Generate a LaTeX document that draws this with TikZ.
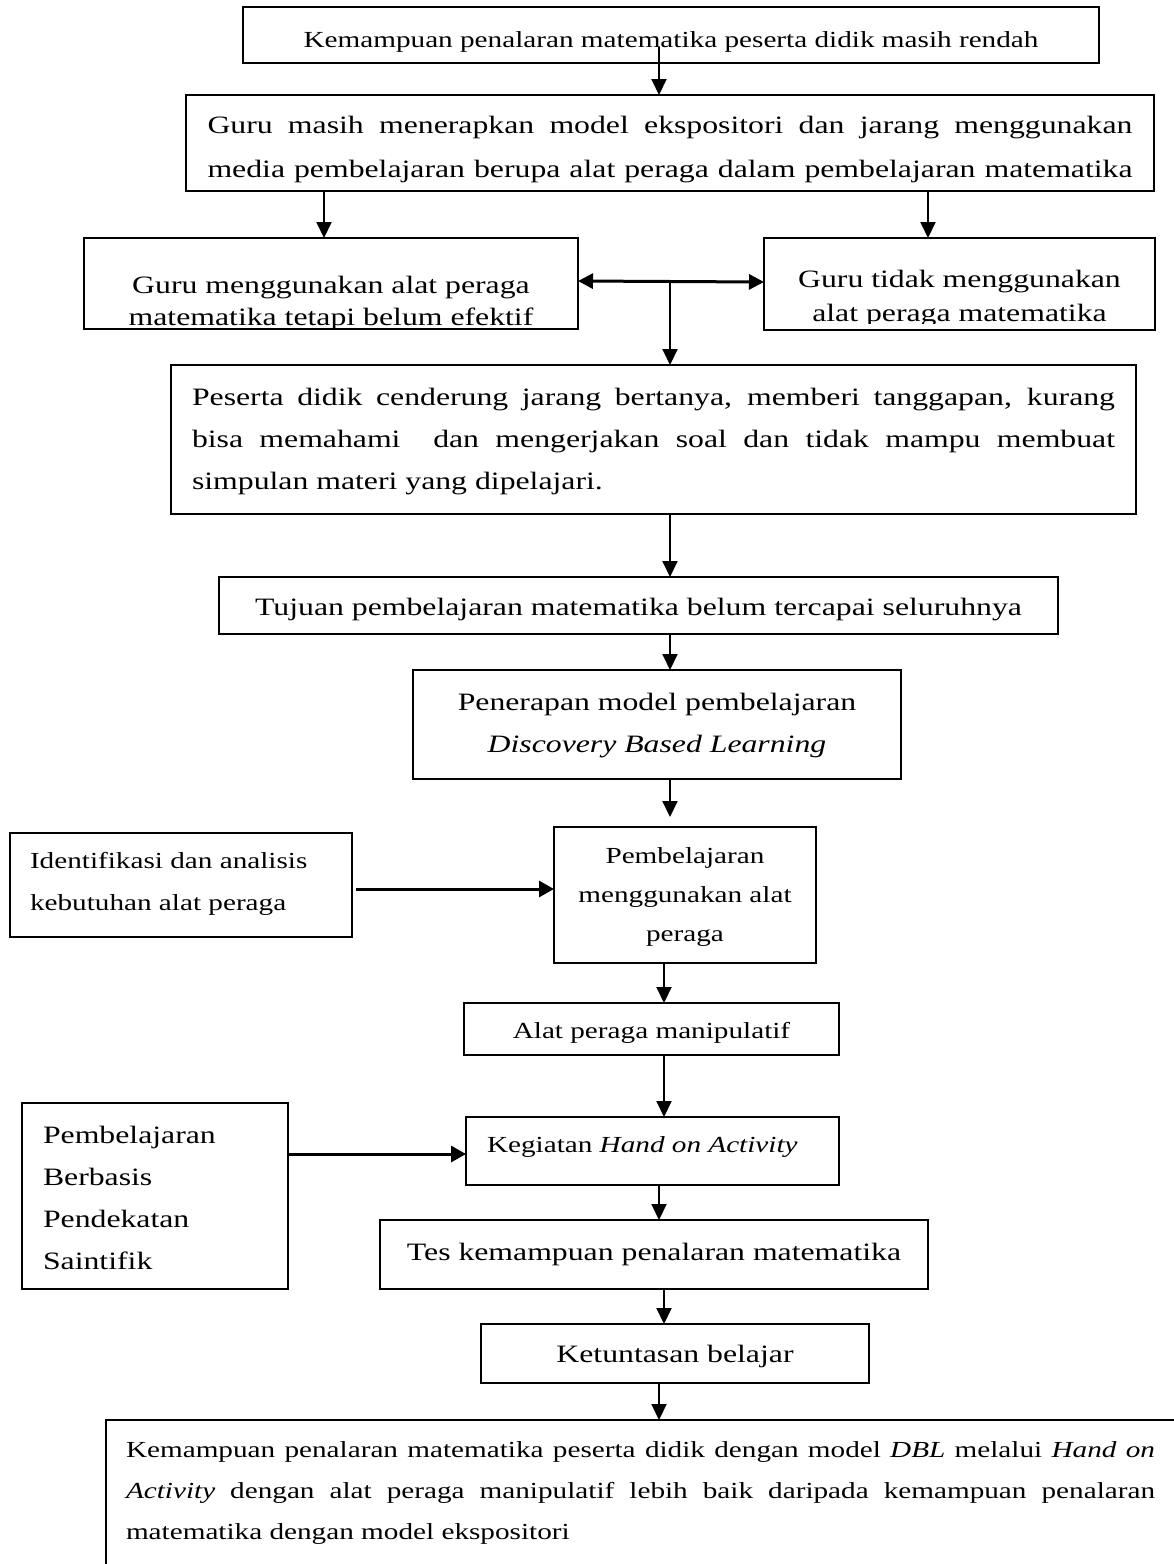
\documentclass[tikz,border=0pt]{standalone}
\usepackage{fontspec}
\setmainfont{Liberation Serif}[FakeStretch=1.27]
\usetikzlibrary{arrows.meta,calc}
\newcommand\tabL[1]{\begin{tabular}[t]{@{}l@{}}#1\end{tabular}}
\newcommand\tabC[1]{\begin{tabular}[t]{@{}c@{}}#1\end{tabular}}
\newcommand\jl[2]{\makebox[#1][s]{#2}}
\tikzset{
  box/.style={draw, line width=2pt, inner sep=0pt, outer sep=0pt, align=center},
  boxthick/.style={box, line width=2.6pt},
  arr/.style={line width=2pt, -{Triangle[length=16pt,width=15pt]}},
  harr/.style={line width=3pt, -{Triangle[length=15pt,width=16pt]}},
  dharr/.style={line width=3pt, {Triangle[length=15pt,width=15pt]}-{Triangle[length=15pt,width=15pt]}},
  fXII/.style={font=\fontsize{25}{44}\selectfont},
  fXI/.style={font=\fontsize{23}{40}\selectfont}
}
\begin{document}
\begin{tikzpicture}[x=1pt,y=-1pt]
\useasboundingbox (0,0) rectangle (1174,1564);
\fill[white] (0,0) rectangle (1174,1564);
\clip (0,0) rectangle (1174,1564);

% reference coordinates for the vertical connectors
\coordinate (mx) at (670,0);
\coordinate (mx2) at (664,0);
\coordinate (mx3) at (659,0);

\node[box, fXI, minimum width=856pt, text height=40pt, text depth=16pt] (b1) at (671,35)
  {Kemampuan penalaran matematika peserta didik masih rendah};

\node[boxthick, fXII, minimum width=968pt, text height=38pt, text depth=58pt] (b2) at (670,143)
  {\tabL{\jl{925pt}{Guru masih menerapkan model ekspositori dan jarang menggunakan}\\
         \jl{925pt}{media pembelajaran berupa alat peraga dalam pembelajaran matematika}}};

\node[box, minimum width=494pt, minimum height=91pt, path picture={
    \clip ([yshift=2pt]path picture bounding box.south west) rectangle (path picture bounding box.north east);
    \node[anchor=base, inner sep=0pt, font=\fontsize{25}{32}\selectfont] (b3lt)
      at ([yshift=-55pt]path picture bounding box.north)
      {\tabC{Guru menggunakan alat peraga\\ matematika tetapi belum efektif}};
  }] (b3l) at (331,283.5) {};

\node[box, minimum width=391pt, minimum height=92pt, path picture={
    \clip ([yshift=7pt]path picture bounding box.south west) rectangle (path picture bounding box.north east);
    \node[anchor=base, inner sep=0pt, font=\fontsize{25}{34}\selectfont] (b3rt)
      at ([yshift=-49pt]path picture bounding box.north)
      {\tabC{Guru tidak menggunakan\\ alat peraga matematika}};
  }] (b3r) at (959.5,284) {};

\node[boxthick, font=\fontsize{25}{42}\selectfont, minimum width=965pt, text height=40pt, text depth=109pt] (b4) at (653.5,439.5)
  {\tabL{\jl{923pt}{Peserta didik cenderung jarang bertanya, memberi tanggapan, kurang}\\
         \jl{923pt}{bisa memahami\ \ dan mengerjakan soal dan tidak mampu membuat}\\
         simpulan materi yang dipelajari.}};

\node[box, fXII, minimum width=839pt, text height=38pt, text depth=19pt] (b5) at (638.5,605.5)
  {Tujuan pembelajaran matematika belum tercapai seluruhnya};

\node[box, font=\fontsize{25}{42}\selectfont, minimum width=488pt, text height=40pt, text depth=69pt] (b6) at (657,724.5)
  {\tabC{Penerapan model pembelajaran\\ \textit{Discovery Based Learning}}};

\node[box, font=\fontsize{23}{39}\selectfont, minimum width=262pt, text height=36pt, text depth=100pt] (b7) at (685,895)
  {\tabC{Pembelajaran\\ menggunakan alat\\ peraga}};

\node[box, font=\fontsize{23}{42}\selectfont, minimum width=342pt, text height=35pt, text depth=69pt] (b8) at (181,885)
  {\makebox[342pt][l]{\hspace{20pt}\tabL{Identifikasi dan analisis\\ kebutuhan alat peraga}}};

\node[box, fXI, minimum width=375pt, text height=35pt, text depth=17pt] (b9) at (651.5,1029)
  {Alat peraga manipulatif};

\node[box, fXI, minimum width=373pt, text height=35pt, text depth=33pt] (b10) at (652.5,1151)
  {\makebox[373pt][l]{\hspace{21pt}Kegiatan \textit{Hand on Activity}}};

\node[box, font=\fontsize{25}{42.3}\selectfont, minimum width=266pt, text height=40pt, text depth=146pt] (b11) at (155,1196)
  {\makebox[266pt][l]{\hspace{21pt}\tabL{Pembelajaran\\ Berbasis\\ Pendekatan\\ Saintifik}}};

\node[boxthick, fXII, minimum width=548pt, text height=40pt, text depth=29pt] (b12) at (654,1254.5)
  {Tes kemampuan penalaran matematika};

\node[box, fXII, minimum width=388pt, text height=38pt, text depth=21pt] (b13) at (675,1353.5)
  {Ketuntasan belajar};

\node[boxthick, font=\fontsize{23}{41}\selectfont, minimum width=1094pt, text height=37pt, text depth=143pt] (b14) at (653,1510)
  {\makebox[1094pt][l]{\hspace{20pt}\tabL{%
     \jl{1029pt}{Kemampuan penalaran matematika peserta didik dengan model \textit{DBL} melalui \textit{Hand on}}\\
     \jl{1029pt}{\textit{Activity} dengan alat peraga manipulatif lebih baik daripada kemampuan penalaran}\\
     matematika dengan model ekspositori}}};

% connectors
\draw[arr] ($(b1.center)+(-12,12)$) coordinate (s1) -- (s1 |- b2.north);
\draw[arr] ($(b2.south west)+(138,0)$) coordinate (s2) -- (s2 |- b3l.north);
\draw[arr] ($(b2.south west)+(742,0)$) coordinate (s3) -- (s3 |- b3r.north);
\draw[dharr] ([yshift=2.5pt]b3l.east) -- ([yshift=2pt]b3r.west);
\coordinate (j) at ($([yshift=2.5pt]b3l.east)!0!(b3l.east)$);
\draw[arr] (j -| mx) -- (b4.north -| mx);
\draw[arr] (b4.south -| mx) -- (b5.north -| mx);
\draw[arr] (b5.south -| mx) -- (b6.north -| mx);
\draw[arr] (b6.south -| mx) -- ($(b7.north -| mx)+(0,-10)$);
\draw[harr] ($(b8.east)+(4,4)$) coordinate (s8) -- (b7.west |- s8);
\draw[arr] (b7.south -| mx2) -- (b9.north -| mx2);
\draw[arr] (b9.south -| mx2) -- (b10.north -| mx2);
\coordinate (hy) at (0,1154);
\draw[harr] (b11.east |- hy) -- (b10.west |- hy);
\draw[arr] (b10.south -| mx3) -- (b12.north -| mx3);
\draw[arr] (b12.south -| mx2) -- (b13.north -| mx2);
\draw[arr] (b13.south -| mx3) -- (b14.north -| mx3);
\end{tikzpicture}
\end{document}
